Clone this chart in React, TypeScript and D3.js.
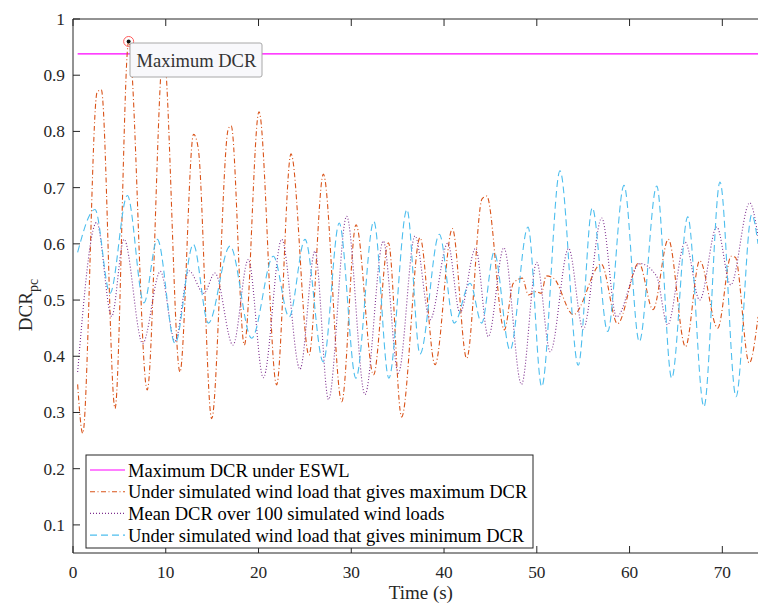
import React from "react";
import * as d3 from "d3";

// ---- data (time in s, DCR_pc) ----
const eswlMax = 0.938;
const eswlTime = [0.5, 75];

const maxTime = [0.5, 1.05, 2.6, 3.05, 4.53, 6.0, 8.0, 9.75, 11.53, 13.0, 13.5, 14.95, 16.75, 17.05, 18.47, 20.05, 21.95, 23.5, 25.44, 26.99, 28.97, 30.51, 32.4, 34.0, 35.43, 37.41, 39.03, 40.9, 42.44, 44.1, 44.6, 46.5, 47.47, 48.45, 49.09, 49.9, 50.5, 51.0, 51.8, 53.94, 56.95, 58.7, 61.0, 62.53, 64.18, 66.03, 67.56, 69.5, 70.95, 71.4, 72.9, 73.85];
const maxDcr = [0.35, 0.263, 0.87, 0.874, 0.307, 0.96, 0.34, 0.945, 0.372, 0.795, 0.77, 0.289, 0.805, 0.81, 0.42, 0.835, 0.349, 0.76, 0.402, 0.724, 0.319, 0.634, 0.367, 0.602, 0.292, 0.611, 0.385, 0.627, 0.396, 0.68, 0.685, 0.447, 0.53, 0.539, 0.509, 0.515, 0.512, 0.543, 0.539, 0.474, 0.564, 0.458, 0.566, 0.483, 0.608, 0.417, 0.57, 0.45, 0.578, 0.576, 0.388, 0.47];

const meanTime = [0.5, 2.55, 4.17, 5.5, 7.51, 9.42, 11.0, 12.5, 14.1, 15.3, 17.25, 18.9, 20.52, 22.5, 24.47, 26.09, 27.55, 29.5, 31.48, 33.45, 35.07, 36.87, 38.49, 40.4, 41.72, 43.4, 44.77, 46.45, 48.35, 49.99, 51.45, 53.43, 55.0, 57.0, 58.6, 61.1, 62.9, 64.1, 65.99, 67.56, 69.4, 70.9, 72.95, 73.85];
const meanDcr = [0.372, 0.638, 0.471, 0.608, 0.423, 0.551, 0.427, 0.552, 0.512, 0.548, 0.42, 0.572, 0.362, 0.608, 0.377, 0.587, 0.323, 0.649, 0.332, 0.605, 0.37, 0.614, 0.465, 0.601, 0.477, 0.592, 0.435, 0.593, 0.35, 0.567, 0.408, 0.592, 0.448, 0.646, 0.47, 0.565, 0.543, 0.456, 0.603, 0.5, 0.63, 0.527, 0.673, 0.614];

const minTime = [0.5, 2.37, 3.99, 5.86, 7.65, 9.09, 11.0, 12.97, 14.59, 16.93, 19.26, 21.6, 23.3, 25.01, 26.98, 28.7, 30.5, 32.43, 34.05, 36.0, 37.41, 39.49, 41.1, 42.8, 44.06, 45.4, 47.11, 49.05, 50.53, 52.5, 54.47, 55.98, 57.64, 59.4, 61.05, 62.93, 64.54, 66.27, 68.02, 69.75, 71.48, 73.17, 73.85];
const minDcr = [0.585, 0.661, 0.512, 0.686, 0.495, 0.608, 0.423, 0.599, 0.459, 0.596, 0.432, 0.578, 0.47, 0.608, 0.39, 0.637, 0.361, 0.64, 0.361, 0.661, 0.404, 0.617, 0.459, 0.53, 0.459, 0.585, 0.411, 0.63, 0.346, 0.73, 0.384, 0.664, 0.444, 0.704, 0.426, 0.703, 0.361, 0.648, 0.31, 0.71, 0.328, 0.652, 0.6];

const peakTime = 6.0;
const peakDcr = 0.96;

const xTicks = [0, 10, 20, 30, 40, 50, 60, 70];
const yTicks = [0.1, 0.2, 0.3, 0.4, 0.5, 0.6, 0.7, 0.8, 0.9, 1];

const legendLabels = [
  "Maximum DCR under ESWL",
  "Under simulated wind load that gives maximum DCR",
  "Mean DCR over 100 simulated wind loads",
  "Under simulated wind load that gives minimum DCR",
];

const colors = ["#FF00FF", "#D95319", "#7E2F8E", "#4DBEEE"];
const dashes = ["none", "5,2.5,1,2.5", "1,2", "7,4"];

const FONT = "'Liberation Serif', 'Times New Roman', serif";

export default function App() {
  const W = 758, H = 604;
  const left = 73, top = 19, bottom = 553, right = 758;
  const x = d3.scaleLinear().domain([0, 75]).range([73, 768.7]);
  const y = d3.scaleLinear().domain([0.05, 1]).range([553, 19]);

  const mk = (ts: number[], vs: number[]) =>
    d3.line<number>()
      .x((_, i) => x(ts[i]))
      .y((v) => y(v))
      .curve(d3.curveMonotoneX)(vs) as string;

  const eswlPath = d3.line<number>().x((t) => x(t)).y(() => y(eswlMax))(eswlTime) as string;
  const paths = [eswlPath, mk(maxTime, maxDcr), mk(meanTime, meanDcr), mk(minTime, minDcr)];

  const axisColor = "#262626";
  const tickFont = 17.3;
  const legX = 86, legY = 455, legW = 447, legH = 93;
  const rowY = [470, 491.7, 513.4, 535.1];

  const px = x(peakTime), py = y(peakDcr);

  return (
    <svg width={W} height={H} style={{ position: "absolute", left: 0, top: 0, background: "#fff" }} fontFamily={FONT}>
      <defs>
        <clipPath id="plotclip">
          <rect x={left} y={top} width={right - left} height={bottom - top} />
        </clipPath>
      </defs>
      <rect x={0} y={0} width={W} height={H} fill="#fff" />
      <g clipPath="url(#plotclip)">
        {paths.map((d, i) => (
          <path key={i} d={d} fill="none" stroke={colors[i]} strokeWidth={i === 0 ? 1.3 : 1.1}
            strokeDasharray={dashes[i] === "none" ? undefined : dashes[i]} />
        ))}
      </g>
      {/* axes */}
      <line x1={left} y1={top} x2={left} y2={bottom} stroke={axisColor} strokeWidth={1} />
      <line x1={left} y1={bottom} x2={right} y2={bottom} stroke={axisColor} strokeWidth={1} />
      <line x1={left} y1={top} x2={right} y2={top} stroke={axisColor} strokeWidth={1} />
      {yTicks.map((t) => (
        <g key={"y" + t}>
          <line x1={left} x2={left + 7} y1={y(t)} y2={y(t)} stroke={axisColor} />
          <text x={65} y={y(t) + 6} textAnchor="end" fontSize={tickFont} fill={axisColor}>
            {String(t)}
          </text>
        </g>
      ))}
      {xTicks.map((t) => (
        <g key={"x" + t}>
          <line x1={x(t)} x2={x(t)} y1={bottom} y2={bottom - 7} stroke={axisColor} />
          <line x1={x(t)} x2={x(t)} y1={top} y2={top + 7} stroke={axisColor} />
          <text x={x(t)} y={577.5} textAnchor="middle" fontSize={tickFont} fill={axisColor}>
            {String(t)}
          </text>
        </g>
      ))}
      <text x={(x(0) + x(75)) / 2} y={599} textAnchor="middle" fontSize={19} fill={axisColor}>
        Time (s)
      </text>
      <text transform={`translate(31.5, ${305}) rotate(-90)`} textAnchor="middle" fontSize={19} fill={axisColor}>
        DCR<tspan fontSize={14} dy={6}>pc</tspan>
      </text>

      {/* data tip */}
      <circle cx={px} cy={py} r={5} fill="none" stroke="#FF5A5A" strokeWidth={1} />
      <circle cx={px} cy={py} r={2} fill="#111" />
      <rect x={130} y={43} width={132} height={34} rx={2} fill="#F8F8FB" stroke="#A8A8A8" strokeWidth={1} />
      <text x={136.5} y={66.7} fontSize={18.5} fill="#333">Maximum DCR</text>

      {/* legend */}
      <rect x={legX} y={legY} width={legW} height={legH} fill="#fff" stroke={axisColor} strokeWidth={1} />
      {legendLabels.map((lab, i) => (
        <g key={lab}>
          <line x1={90} x2={125} y1={rowY[i]} y2={rowY[i]} stroke={colors[i]} strokeWidth={1.1}
            strokeDasharray={dashes[i] === "none" ? undefined : dashes[i]} />
          <text x={128} y={rowY[i] + 6.7} fontSize={18.5} fill="#000">{lab}</text>
        </g>
      ))}
    </svg>
  );
}
